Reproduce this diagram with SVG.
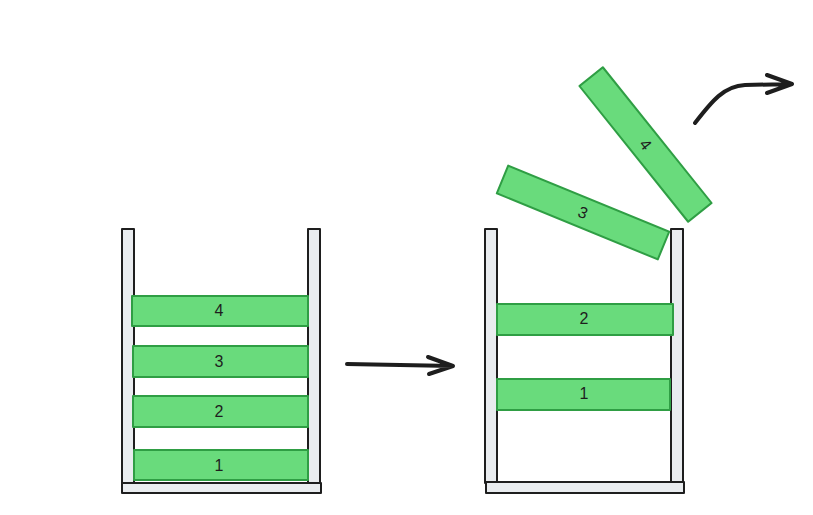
<svg xmlns="http://www.w3.org/2000/svg" width="813" height="515" viewBox="0 0 813 515">
<style>
.wall{fill:#e9ecef;stroke:#1e1e1e;stroke-width:2;stroke-linejoin:round}
.bar{fill:#69db7c;stroke:#2f9e44;stroke-width:2;stroke-linejoin:round}
.lbl{font-family:"Liberation Sans",Arial,sans-serif;font-size:16px;fill:#1e1e1e;text-anchor:middle;dominant-baseline:central}
.arr{fill:none;stroke:#1e1e1e;stroke-width:4;stroke-linecap:round;stroke-linejoin:round}
</style>
<rect width="813" height="515" fill="#ffffff"/>
<g id="left-stack">
<rect class="wall" x="122" y="229" width="12" height="254"/>
<rect class="wall" x="308" y="229" width="12" height="254"/>
<rect class="wall" x="122" y="483" width="199" height="10"/>
</g>
<g id="left-bar-4"><rect class="bar" x="132" y="296" width="176" height="30"/><text class="lbl" x="219" y="310">4</text></g>
<g id="left-bar-3"><rect class="bar" x="133" y="346" width="175" height="31"/><text class="lbl" x="219" y="361">3</text></g>
<g id="left-bar-2"><rect class="bar" x="133" y="396" width="175" height="31"/><text class="lbl" x="219" y="411">2</text></g>
<g id="left-bar-1"><rect class="bar" x="134" y="450" width="174" height="30"/><text class="lbl" x="219" y="465">1</text></g>
<g id="right-stack">
<rect class="wall" x="485" y="229" width="12" height="254"/>
<rect class="wall" x="671" y="229" width="12" height="254"/>
<rect class="wall" x="486" y="482" width="198" height="11"/>
</g>
<g id="right-bar-2"><rect class="bar" x="497" y="304" width="176" height="31"/><text class="lbl" x="584" y="318">2</text></g>
<g id="right-bar-1"><rect class="bar" x="497" y="379" width="173" height="31"/><text class="lbl" x="584" y="393">1</text></g>
<g id="flying-bar-3" transform="translate(583,212.5) rotate(22.3)"><rect class="bar" x="-87" y="-15" width="174" height="30"/><text class="lbl" x="0" y="0">3</text></g>
<g id="flying-bar-4" transform="translate(645.5,144.5) rotate(51.3)"><rect class="bar" x="-87" y="-15" width="174" height="30"/><text class="lbl" x="0" y="0">4</text></g>
<g id="connectors">
<path class="arr" d="M347,364 L453,366 M428,357 L453,366 L429,374"/>
<path class="arr" d="M695,123 C712,101 724,86 745,85 L792,84 M767,75 L792,84 L767,93"/>
</g>
</svg>
